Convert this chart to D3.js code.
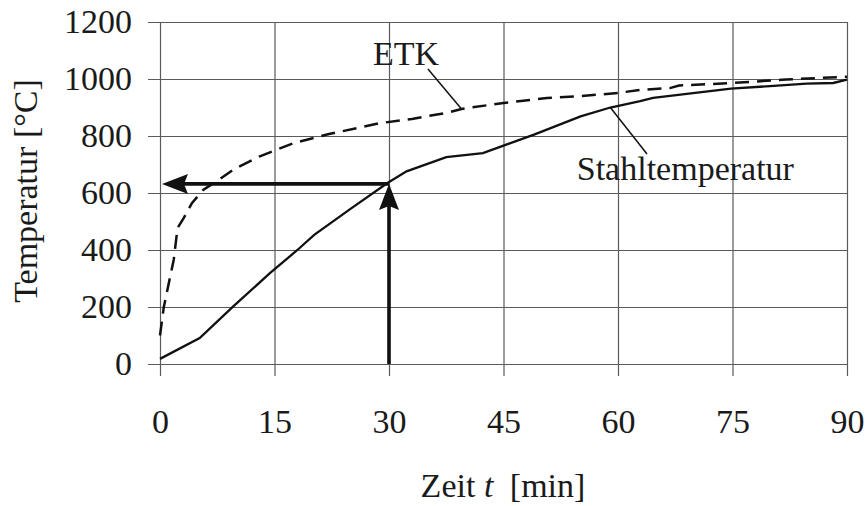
<!DOCTYPE html>
<html>
<head>
<meta charset="utf-8">
<script src="https://cdn.jsdelivr.net/npm/d3@7"></script>
<style>
	body { margin: 0; background: #fff; }
	svg { display: block; }
	text { font-family: "Liberation Serif", "Times New Roman", serif; fill: #1a1a1a; }
	.axis text { font-size: 34px; font-family: "Liberation Serif", "Times New Roman", serif; }
	.axis line { stroke: #5a5a5a; stroke-width: 1.2; }
	.axis path { display: none; }
</style>
</head>
<body>
<script>
// values
var etkTime = [0, 0.5, 1.8, 2.3, 3.1, 4.2, 5.7, 7.4, 9.6, 13, 17.5, 22, 28.8, 33, 37.5, 39.5, 45, 50.7, 55, 60, 62.9, 66.8, 68, 75, 82, 90];
var etkTemp = [100, 200, 366, 477, 512, 565, 612, 641, 682, 728, 775, 806, 845, 860, 881, 895, 916, 933, 940, 951, 962, 968, 977, 986, 998, 1008];

var steelTime = [0, 5.2, 9.6, 14.4, 18, 20.2, 25, 29.8, 32.3, 37.5, 42.3, 45, 49, 55.1, 59, 62.9, 64.6, 74.8, 79.9, 84.7, 88.2, 90];
var steelTemp = [18, 91, 202, 319, 400, 453, 545, 635, 676, 726, 740, 766, 805, 869, 900, 922, 934, 966, 975, 984, 986, 998];

var xTicks = [0, 15, 30, 45, 60, 75, 90];
var yTicks = [0, 200, 400, 600, 800, 1000, 1200];

// read-off point shown by the arrows
var readTime = 30;
var readTemp = 632;

var W = 866, H = 506;
var offset = { left: 160, top: 22 };
var chartWidth = 687, chartHeight = 342;

function translate(x, y) {
	return "translate(" + x + "," + y + ")";
}

var svg = d3.select("body").append("svg")
	.attr("width", W)
	.attr("height", H);

var xScale = d3.scaleLinear().domain([0, 90]).range([0, chartWidth]);
var yScale = d3.scaleLinear().domain([0, 1200]).range([chartHeight, 0]);

var g = svg.append("g").attr("transform", translate(offset.left, offset.top));

// y axis, tick lines stretched across the chart as grid
var yAxis = g.append("g")
	.attr("class", "axis y")
	.call(d3.axisLeft(yScale).tickValues(yTicks).tickFormat(d3.format("d"))
		.tickSize(12).tickPadding(16));
yAxis.selectAll("g.tick line").attr("x1", chartWidth);

// x axis, same trick upward
var xAxis = g.append("g")
	.attr("class", "axis x")
	.attr("transform", translate(0, chartHeight))
	.call(d3.axisBottom(xScale).tickValues(xTicks).tickFormat(d3.format("d"))
		.tickSize(12).tickPadding(33));
xAxis.selectAll("g.tick line").attr("y1", -chartHeight);

// curves
function toPoints(ts, vs) {
	return ts.map(function(t, i) { return [t, vs[i]]; });
}
var line = d3.line()
	.x(function(d) { return xScale(d[0]); })
	.y(function(d) { return yScale(d[1]); });

g.append("path")
	.attr("d", line(toPoints(etkTime, etkTemp)))
	.attr("fill", "none")
	.attr("stroke", "#111")
	.attr("stroke-width", 2.5)
	.attr("stroke-dasharray", "14,8");

g.append("path")
	.attr("d", line(toPoints(steelTime, steelTemp)))
	.attr("fill", "none")
	.attr("stroke", "#111")
	.attr("stroke-width", 2.3);

// arrows
var defs = svg.append("defs");
defs.append("marker")
	.attr("id", "head")
	.attr("markerUnits", "userSpaceOnUse")
	.attr("viewBox", "0 -11 26 22")
	.attr("markerWidth", 26)
	.attr("markerHeight", 22)
	.attr("refX", 16)
	.attr("refY", 0)
	.attr("orient", "auto")
	.append("path")
	.attr("d", "M0,-10L26,0L0,10L4,0Z")
	.attr("fill", "#111");

var px = xScale(readTime), py = yScale(readTemp);
// vertical: from time axis up to the steel curve
g.append("line")
	.attr("x1", px).attr("y1", yScale(0))
	.attr("x2", px).attr("y2", py + 10)
	.attr("stroke", "#111").attr("stroke-width", 3.6)
	.attr("marker-end", "url(#head)");
// horizontal: from the curve to the temperature axis
g.append("line")
	.attr("x1", px).attr("y1", py)
	.attr("x2", xScale(0) + 12).attr("y2", py)
	.attr("stroke", "#111").attr("stroke-width", 3.6)
	.attr("marker-end", "url(#head)");

// curve labels with leader lines
function leader(t1, v1, t2, v2) {
	g.append("line")
		.attr("x1", xScale(t1)).attr("y1", yScale(v1))
		.attr("x2", xScale(t2)).attr("y2", yScale(v2))
		.attr("stroke", "#111").attr("stroke-width", 1.5);
}
leader(35.1, 1035, 39.5, 895);
leader(63.8, 737, 59, 900);

g.append("text")
	.attr("x", xScale(27.9)).attr("y", yScale(1049))
	.attr("font-size", 34)
	.text("ETK");
g.append("text")
	.attr("x", xScale(54.6)).attr("y", yScale(645))
	.attr("font-size", 34)
	.text("Stahltemperatur");

// axis titles
svg.append("text")
	.attr("transform", translate(37, 191) + " rotate(-90)")
	.attr("text-anchor", "middle")
	.attr("font-size", 34)
	.text("Temperatur [°C]");

var xt = svg.append("text")
	.attr("x", 503).attr("y", 497)
	.attr("text-anchor", "middle")
	.attr("font-size", 34);
xt.append("tspan").text("Zeit ");
xt.append("tspan").attr("font-style", "italic").text("t");
xt.append("tspan").attr("dx", 8).text(" [min]");
</script>
</body>
</html>
